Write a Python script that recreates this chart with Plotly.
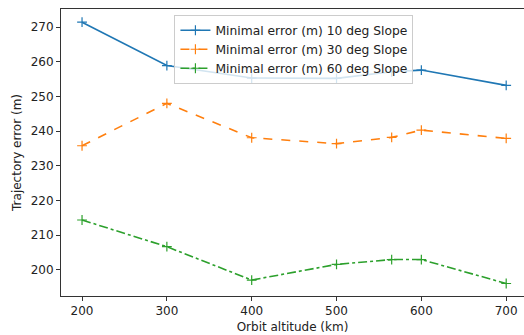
import plotly.graph_objects as go

altitude = [200, 300, 400, 500, 565, 600, 700]
err_10 = [271.4, 258.9, 255.3, 255.2, 257.1, 257.6, 253.2]
err_30 = [235.8, 248.0, 238.1, 236.4, 238.2, 240.3, 237.9]
err_60 = [214.4, 206.7, 197.1, 201.6, 203.0, 203.0, 196.1]
names = ["Minimal error (m) 10 deg Slope", "Minimal error (m) 30 deg Slope", "Minimal error (m) 60 deg Slope"]
colors = ["#1f77b4", "#ff7f0e", "#2ca02c"]
dashes = ["solid", "dash", "dashdot"]

fig = go.Figure()
for ys, n, c, d in zip([err_10, err_30, err_60], names, colors, dashes):
    fig.add_trace(go.Scatter(
        x=altitude, y=ys, name=n, mode="lines+markers",
        line=dict(color=c, width=1.6, dash=d),
        marker=dict(symbol="cross-thin", size=7, line=dict(color=c, width=1.2)),
    ))

axis_font = dict(family="DejaVu Sans", size=12, color="#222")
fig.update_layout(
    width=524, height=335,
    margin=dict(l=61, r=0, t=9, b=39),
    paper_bgcolor="white", plot_bgcolor="white",
    font=axis_font,
    showlegend=True,
    legend=dict(x=0.245, y=0.98, xanchor="left", yanchor="top",
                bgcolor="rgba(255,255,255,0.8)", bordercolor="#ccc", borderwidth=1,
                font=dict(family="DejaVu Sans", size=12.3, color="#222"),
                tracegroupgap=0, itemwidth=30),
    xaxis=dict(range=[175.2, 721], tickvals=[200, 300, 400, 500, 600, 700],
               showgrid=False, zeroline=False, showline=True, linecolor="#333",
               linewidth=1, mirror=True, ticks="outside", ticklen=4, tickcolor="#333",
               tickfont=axis_font,
               title=dict(text="Orbit altitude (km)", standoff=5, font=axis_font)),
    yaxis=dict(range=[192.5, 275.2], tickvals=[200, 210, 220, 230, 240, 250, 260, 270],
               showgrid=False, zeroline=False, showline=True, linecolor="#333",
               linewidth=1, ticks="outside", ticklen=4, tickcolor="#333",
               tickfont=axis_font,
               title=dict(text="Trajectory error (m)", standoff=6, font=axis_font)),
)
fig.write_html("out.html")
